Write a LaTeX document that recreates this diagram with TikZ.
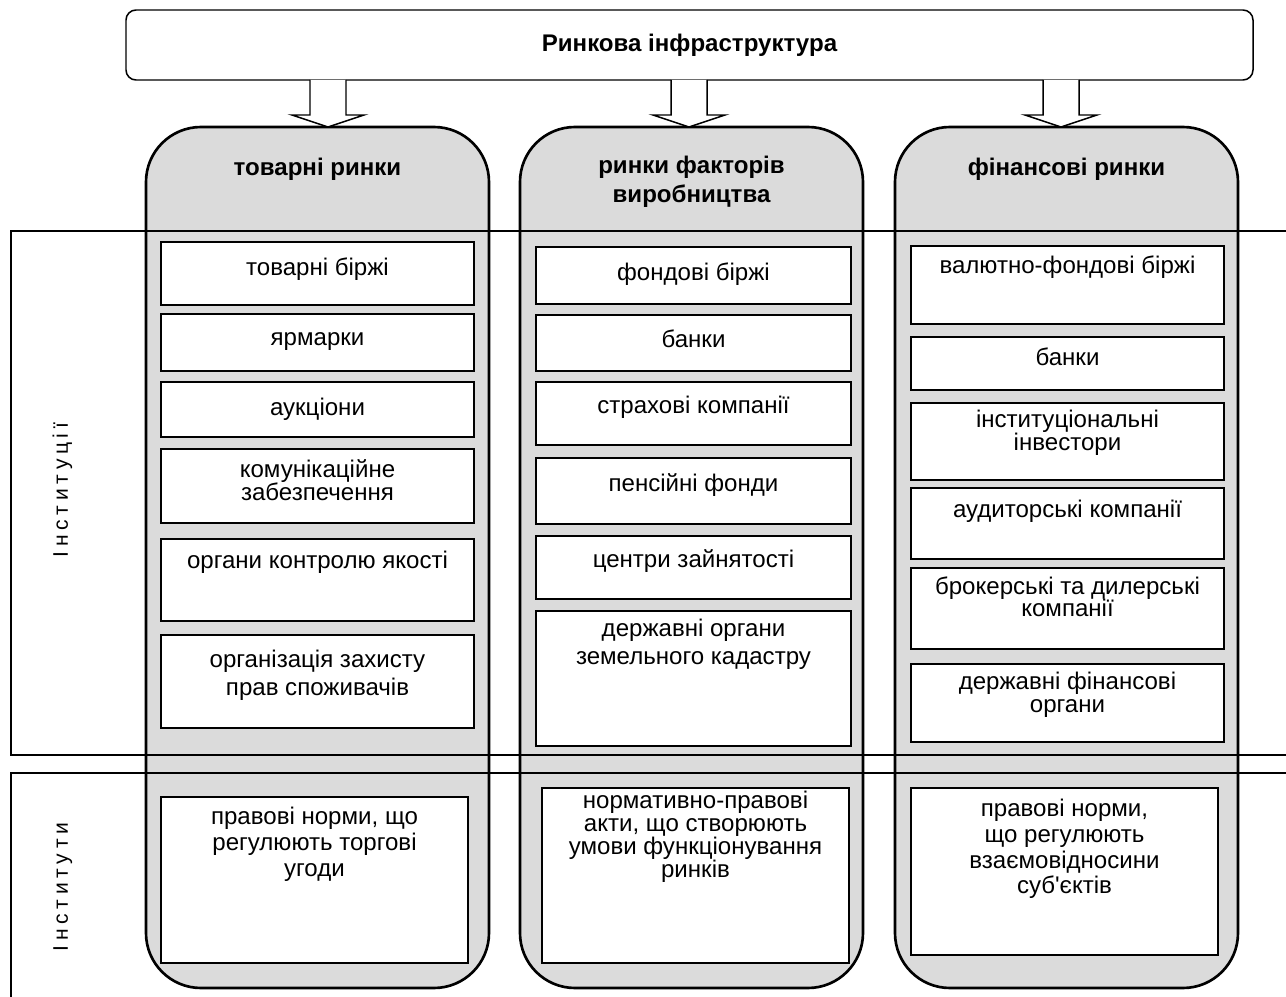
\documentclass[tikz,border=0pt]{standalone}
\usepackage{fontspec}
\setmainfont{Liberation Sans}[Ligatures=TeXOff]
\newfontfamily\spacedfont{Liberation Sans}[LetterSpace=22]
\usetikzlibrary{positioning,fit}

\tikzset{
  market/.style={draw, line width=1.5pt, rounded corners=1.1cm,
    fill=black!14, inner sep=0pt},
  cell/.style={draw, line width=1.1pt, fill=white, inner sep=0pt},
  celltext/.style={align=center, inner sep=0pt, anchor=north,
    font=\fontsize{13.7}{#1}\selectfont,
    execute at begin node={\rule{0pt}{0.75em}}},
  celltext/.default=15,
  title/.style={celltext=16.5, font=\fontsize{13.7}{16.5}\selectfont\bfseries},
  frame/.style={line width=0.85pt},
  blockarrow/.style={draw, line width=0.85pt, fill=white, line join=miter},
  side/.style={rotate=90, anchor=base, inner sep=0pt,
    font=\spacedfont\fontsize{12}{14}\selectfont}
}

\begin{document}
\begin{tikzpicture}[x=0.02cm, y=-0.02cm]
  \useasboundingbox (0,0) rectangle (1286,997);

  % Top box
  \node[draw, line width=0.85pt, rounded corners=0.2cm, inner sep=0pt,
        fit={(126,10) (1253,80)}] (infra) {};
  \node[font=\fontsize{13.7}{16}\selectfont\bfseries, inner sep=0pt]
    (infrat) at (infra.center) {Ринкова інфраструктура};

  % Markets
  \foreach \c/\xl/\xr in {1/146/489, 2/520/863, 3/895/1238} {
    \node[market, fit={(\xl,127) (\xr,988)}] (col\c) {};
  }

  % Arrows from the top box
  \foreach \c/\x in {1/328, 2/689, 3/1061} {
    \draw[blockarrow] (\x-18,80) -- (\x-18,115) -- (\x-36,115) -- (\x,127)
      -- (\x+36,115) -- (\x+18,115) -- (\x+18,80);
  }

  % Market titles
  \node[title] (col1t) at (317.5, 175-18) {товарні ринки};
  \node[title] (col2t) at (691.5, 174-18) {ринки факторів\\виробництва};
  \node[title] (col3t) at (1066.5, 175-18) {фінансові ринки};

  % Frames
  \draw[frame] (1286,231) -- (11,231) -- (11,755) -- (1286,755);
  \draw[frame] (1286,773) -- (11,773) -- (11,997);
  \node[side] (inst1) at (68,490) {Інституції};
  \node[side] (inst2) at (68,887) {Інститути};

  % Commodity markets
  \foreach \t/\b/\bl/\ld/\txt [count=\i] in {
      242/305/275/15/{товарні біржі},
      314/371/345/15/{ярмарки},
      382/437/415/15/{аукціони},
      449/523/477/13/{комунікаційне\\забезпечення},
      539/621/568/15/{органи контролю якості},
      635/728/668/15.9/{організація захисту\\прав споживачів}} {
    \node[cell, fit={(161,\t) (474,\b)}] (c1b\i) {};
    \node[celltext=\ld] (c1t\i) at (317.5, \bl-18) {\txt};
  }
  \node[cell, fit={(161,797) (468,963)}] (c1low) {};
  \node[celltext=14.8] (c1lowt) at (314.5, 825-18)
    {правові норми, що\\регулюють торгові\\угоди};

  % Factor markets
  \foreach \t/\b/\bl/\ld/\txt [count=\i] in {
      247/304/280/15/{фондові біржі},
      315/371/347/15/{банки},
      382/445/413/15/{страхові компанії},
      458/524/491/15/{пенсійні фонди},
      536/599/567/15/{центри зайнятості},
      611/746/637/15.9/{державні органи\\земельного кадастру}} {
    \node[cell, fit={(536,\t) (851,\b)}] (c2b\i) {};
    \node[celltext=\ld] (c2t\i) at (693.5, \bl-18) {\txt};
  }
  \node[cell, fit={(542,788) (849,963)}] (c2low) {};
  \node[celltext=13] (c2lowt) at (695.5, 809-18)
    {нормативно-правові\\акти, що створюють\\умови функціонування\\ринків};

  % Financial markets
  \foreach \t/\b/\bl/\ld/\txt [count=\i] in {
      246/324/273/15/{валютно-фондові біржі},
      337/390/365/15/{банки},
      403/480/428/13/{інституціональні\\інвестори},
      488/559/517/15/{аудиторські компанії},
      568/649/594/13/{брокерські та дилерські\\компанії},
      664/742/690/13/{державні фінансові\\органи}} {
    \node[cell, fit={(911,\t) (1224,\b)}] (c3b\i) {};
    \node[celltext=\ld] (c3t\i) at (1067.5, \bl-18) {\txt};
  }
  \node[cell, fit={(911,788) (1218,955)}] (c3low) {};
  \node[celltext=14.6] (c3lowt) at (1064.5, 817-18)
    {правові норми,\\що регулюють\\взаємовідносини\\суб'єктів};
\end{tikzpicture}
\end{document}
